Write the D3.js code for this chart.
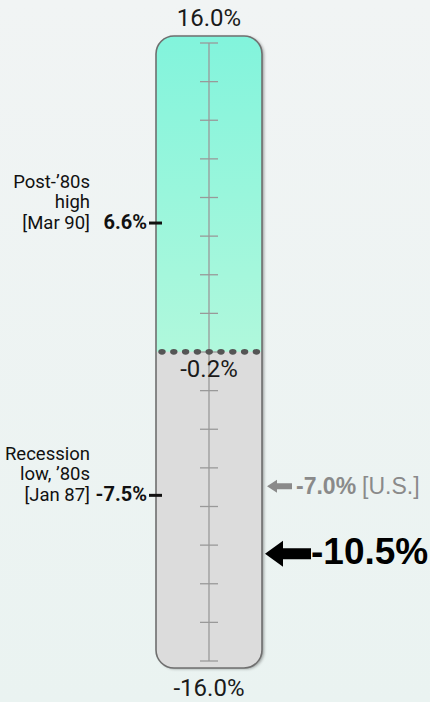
<!DOCTYPE html>
<html><head><meta charset="utf-8">
<script src="https://cdn.jsdelivr.net/npm/d3@7"></script>
<style>html,body{margin:0;padding:0;background:#eef3f3;}svg{display:block;font-family:Roboto,"Noto Sans",sans-serif;}</style>
</head><body><svg id="c" width="430" height="702"></svg>
<script>
// Data
const domainMax = 16.0, domainMin = -16.0;
const tickValues = d3.range(-16, 16.01, 2);
const splitValue = -0.2;
const splitLabel = "-0.2%";
const annotationsLeft = [
  {lines:["Post-\u201980s","high","[Mar 90]"], value:6.6, label:"6.6%"},
  {lines:["Recession","low, \u201980s","[Jan 87]"], value:-7.5, label:"-7.5%"}
];
const usValue = -7.0, usLabel = "-7.0%", usTag = "[U.S.]";
const mainValue = -10.5, mainLabel = "-10.5%";

(function(){
const svg = d3.select("#c");
const W=430,H=702;
const defs = svg.append("defs");
const bg = defs.append("linearGradient").attr("id","bg").attr("x1",0).attr("y1",0).attr("x2",0).attr("y2",1);
bg.append("stop").attr("offset","0%").attr("stop-color","#f1f4f4");
bg.append("stop").attr("offset","100%").attr("stop-color","#eaf3f1");
svg.append("rect").attr("width",W).attr("height",H).attr("fill","url(#bg)");

const topG = defs.append("linearGradient").attr("id","topg").attr("x1",0).attr("y1",0).attr("x2",0).attr("y2",1);
topG.append("stop").attr("offset","0%").attr("stop-color","#82f4dc");
topG.append("stop").attr("offset","100%").attr("stop-color","#b0f8dc");
const sh = defs.append("filter").attr("id","sh").attr("x","-20%").attr("y","-10%").attr("width","140%").attr("height","120%");
sh.append("feDropShadow").attr("dx",2).attr("dy",1).attr("stdDeviation",1.5).attr("flood-color","#000").attr("flood-opacity",0.35);
const clip = defs.append("clipPath").attr("id","tube");

const tubeX=156, tubeW=106, tubeTop=36, tubeBot=668, cx=209;
const y = d3.scaleLinear().domain([domainMin,domainMax]).range([661,43]);

clip.append("rect").attr("x",tubeX).attr("y",tubeTop).attr("width",tubeW).attr("height",tubeBot-tubeTop).attr("rx",18);
svg.append("rect").attr("x",tubeX).attr("y",tubeTop).attr("width",tubeW).attr("height",tubeBot-tubeTop).attr("rx",18)
  .attr("fill","#dcdcdc").attr("filter","url(#sh)");
const g = svg.append("g").attr("clip-path","url(#tube)");
g.append("rect").attr("x",tubeX).attr("y",tubeTop).attr("width",tubeW).attr("height",y(splitValue)-tubeTop-4).attr("fill","url(#topg)");
g.append("rect").attr("x",tubeX).attr("y",y(splitValue)-4).attr("width",tubeW).attr("height",tubeBot-y(splitValue)+4).attr("fill","#dcdcdc");
svg.append("rect").attr("x",tubeX).attr("y",tubeTop).attr("width",tubeW).attr("height",tubeBot-tubeTop).attr("rx",18)
  .attr("fill","none").attr("stroke","#6f6f6f").attr("stroke-width",1.6);

// axis line & ticks
svg.append("line").attr("x1",cx).attr("x2",cx).attr("y1",y(domainMax)).attr("y2",y(domainMin)).attr("stroke","#999").attr("stroke-width",1.3);
svg.selectAll(".tk").data(tickValues).join("line")
  .attr("x1",cx-9).attr("x2",cx+9).attr("y1",d=>y(d)).attr("y2",d=>y(d))
  .attr("stroke","#999").attr("stroke-width",1.3);

// dotted split line
svg.selectAll(".dot").data(d3.range(9)).join("ellipse")
  .attr("cx",d=>162+d*11.8).attr("cy",y(splitValue)-4).attr("rx",3.7).attr("ry",2.8).attr("fill","#555");

// labels
const fmt = d3.formatLocale({decimal:".",thousands:",",grouping:[3],currency:["",""],minus:"-"}).format(".1f");
svg.append("text").attr("x",cx).attr("y",26).attr("text-anchor","middle").attr("font-size",24).attr("fill","#1a1a1a").text(fmt(domainMax)+"%");
svg.append("text").attr("x",cx).attr("y",696).attr("text-anchor","middle").attr("font-size",24).attr("fill","#1a1a1a").text(fmt(domainMin)+"%");
svg.append("text").attr("x",cx).attr("y",y(splitValue)+21).attr("text-anchor","middle").attr("font-size",24).attr("fill","#1a1a1a").text(splitLabel);

annotationsLeft.forEach(a=>{
  const yy = y(a.value);
  svg.append("line").attr("x1",149).attr("x2",162).attr("y1",yy-1.5).attr("y2",yy-1.5).attr("stroke","#111").attr("stroke-width",3);
  svg.append("text").attr("x",147).attr("y",yy+4).attr("text-anchor","end").attr("font-size",20).attr("font-weight","bold").attr("fill","#111").text(a.label);
  a.lines.forEach((l,i)=>{
    svg.append("text").attr("x",90).attr("y",yy+4-(a.lines.length-1-i)*20.5).attr("text-anchor","end").attr("font-size",18.5).attr("fill","#111").text(l);
  });
});

function arrow(x0,len,yy,headW,headH,shaft,color){
  const p = d3.path();
  p.moveTo(x0,yy);
  p.lineTo(x0+headW,yy-headH/2);
  p.lineTo(x0+headW,yy-shaft/2);
  p.lineTo(x0+len,yy-shaft/2);
  p.lineTo(x0+len,yy+shaft/2);
  p.lineTo(x0+headW,yy+shaft/2);
  p.lineTo(x0+headW,yy+headH/2);
  p.closePath();
  svg.append("path").attr("d",p.toString()).attr("fill",color);
}
arrow(267,25,y(usValue)-1,10,13,6,"#8a8a8a");
const t1 = svg.append("text").attr("x",296).attr("y",y(usValue)+6.5).attr("font-family","'Liberation Sans',Arial,sans-serif").attr("font-size",23).attr("fill","#8a8a8a");
t1.append("tspan").attr("font-weight","bold").text(usLabel);
t1.append("tspan").attr("dx",6).text(usTag);

arrow(265,46,y(mainValue)-1,18,26,11,"#000");
svg.append("text").attr("x",311).attr("y",y(mainValue)+9.5).attr("font-family","'Liberation Sans',Arial,sans-serif").attr("font-size",37).attr("font-weight","bold").attr("fill","#000").text(mainLabel);
})();
</script></body></html>
